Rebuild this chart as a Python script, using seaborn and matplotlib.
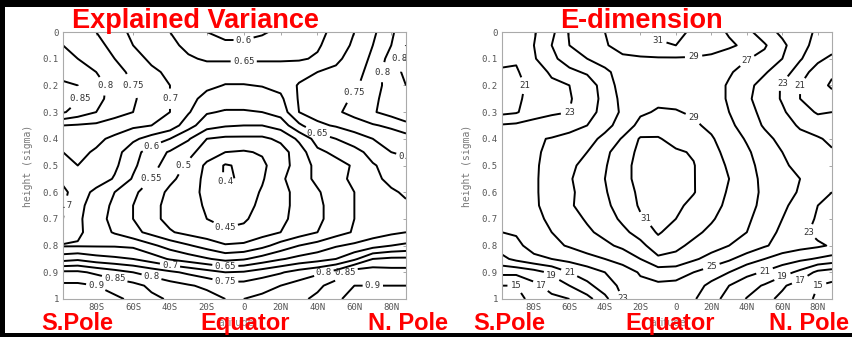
import numpy as np
import matplotlib
matplotlib.use("Agg")
import matplotlib.pyplot as plt
import seaborn as sns
from matplotlib.patches import Rectangle

# Grid the fields are read on (latitude in degrees, height in sigma)
LATS = [-98, -90, -80, -70, -60, -50, -40, -30, -20, -10, 0, 10, 20, 30, 40, 50, 60, 70, 80, 88]
SIGMAS = [0.0, 0.05, 0.1, 0.15, 0.2, 0.25, 0.3, 0.35, 0.4, 0.45, 0.5,
          0.55, 0.6, 0.65, 0.7, 0.75, 0.8, 0.85, 0.9, 0.95, 1.0]

# Explained variance, one row per sigma level
EXPLAINED_VARIANCE = [
    [.79, .78, .75, .72, .69, .67, .65, .62, .60, .585, .585, .595, .61, .62, .64, .66, .70, .74, .79, .84],
    [.80, .80, .77, .73, .70, .68, .66, .64, .625, .61, .61, .615, .625, .635, .645, .67, .71, .75, .80, .85],
    [.815, .80, .78, .75, .72, .69, .67, .655, .645, .645, .645, .645, .645, .645, .655, .69, .72, .76, .82, .86],
    [.84, .83, .80, .765, .74, .71, .69, .675, .67, .67, .67, .67, .67, .68, .70, .71, .73, .77, .83, .86],
    [.855, .85, .82, .78, .75, .72, .70, .68, .66, .648, .648, .652, .665, .705, .71, .72, .74, .78, .82, .85],
    [.86, .855, .815, .78, .755, .73, .70, .665, .635, .625, .625, .63, .64, .705, .715, .725, .76, .79, .82, .84],
    [.855, .83, .80, .77, .75, .725, .70, .655, .605, .595, .595, .60, .62, .70, .72, .74, .77, .795, .82, .85],
    [.75, .745, .74, .725, .71, .70, .68, .62, .57, .555, .55, .55, .57, .64, .69, .705, .72, .745, .76, .78],
    [.71, .72, .71, .69, .66, .63, .60, .555, .50, .49, .49, .49, .51, .56, .62, .65, .68, .70, .72, .73],
    [.70, .71, .695, .67, .62, .575, .545, .515, .475, .45, .445, .455, .48, .525, .59, .61, .63, .67, .70, .71],
    [.69, .70, .69, .66, .61, .565, .53, .49, .44, .395, .41, .44, .48, .52, .565, .585, .605, .645, .67, .68],
    [.69, .70, .68, .645, .595, .55, .51, .48, .435, .395, .405, .445, .49, .53, .56, .585, .61, .64, .66, .665],
    [.71, .68, .635, .60, .56, .525, .49, .465, .44, .42, .425, .455, .49, .51, .545, .575, .60, .63, .645, .655],
    [.705, .665, .625, .59, .55, .515, .485, .465, .445, .43, .435, .46, .49, .51, .54, .57, .60, .625, .64, .645],
    [.70, .66, .62, .585, .55, .515, .485, .465, .45, .44, .445, .465, .49, .515, .54, .57, .60, .62, .63, .635],
    [.69, .66, .625, .595, .565, .535, .505, .485, .47, .455, .46, .48, .50, .525, .55, .58, .605, .625, .64, .65],
    [.645, .645, .645, .645, .64, .61, .58, .555, .53, .505, .51, .535, .57, .60, .62, .645, .66, .68, .70, .71],
    [.73, .74, .72, .71, .70, .675, .645, .625, .605, .585, .595, .62, .645, .665, .68, .70, .74, .80, .81, .81],
    [.86, .86, .84, .82, .80, .78, .76, .74, .72, .70, .705, .725, .745, .77, .79, .82, .88, .88, .87, .87],
    [.91, .91, .90, .88, .865, .84, .82, .805, .79, .77, .77, .785, .80, .82, .84, .87, .90, .90, .90, .90],
    [.93, .93, .92, .91, .89, .86, .845, .83, .82, .80, .80, .81, .82, .84, .86, .89, .92, .92, .92, .92],
]

# E-dimension, one row per sigma level
E_DIMENSION = [
    [22, 22, 22.8, 24.5, 27.2, 28.3, 29, 29.6, 30.3, 31.3, 31.3, 30.8, 29.8, 28.8, 27.5, 26, 24.5, 23.5, 22.8, 22.5],
    [22, 21.8, 23, 25, 27, 28, 28.9, 29.4, 30, 30.8, 31, 30.3, 29.6, 29.3, 28.6, 27.2, 25.5, 23.5, 22.5, 22],
    [21.8, 21.2, 22.8, 24.5, 26, 27, 28, 28.8, 28.8, 28.8, 28.8, 28.8, 28.7, 28, 27.1, 26.5, 25, 23.2, 21.5, 20.5],
    [20.6, 20.8, 22, 23.3, 24.5, 25.3, 26.5, 28, 28.3, 28.3, 28.3, 28.3, 28, 27.2, 26.3, 25.2, 24, 22, 20, 19.2],
    [20, 20.3, 21.8, 22.6, 23, 23.8, 26, 27.8, 28.3, 28.3, 28.3, 28.3, 27.8, 26.8, 25.5, 24.3, 22.8, 21, 19.5, 18.8],
    [20, 20.5, 22, 22.6, 22.9, 23.6, 25.8, 27.5, 28.4, 28.6, 28.6, 28.4, 27.8, 26.8, 25.3, 24.2, 22.8, 21, 19.8, 19.5],
    [20.5, 20.8, 22.2, 22.7, 23, 24, 25.9, 27.3, 28.7, 29.2, 29.1, 28.8, 28, 27, 25.6, 24.5, 23.3, 21.8, 20.8, 21],
    [23.2, 23.4, 23.7, 24, 24.3, 25, 26.4, 27.8, 29.6, 29.8, 29.6, 29.3, 28.6, 27.5, 26, 24.8, 23.7, 22.8, 22, 22],
    [24, 24.5, 24.8, 25.1, 25.6, 26.3, 27.5, 29.2, 31.2, 31.2, 30.2, 30, 29.2, 28, 26.8, 25.5, 24.5, 23.5, 23.2, 22.6],
    [24.2, 24.5, 24.8, 25.3, 26.2, 27, 28.5, 30.2, 31.4, 31.5, 31.3, 30.8, 29.5, 28.5, 27.3, 26, 25, 24, 23.5, 23.2],
    [24, 24.4, 24.8, 25.5, 26.6, 27.6, 28.8, 30.5, 31.5, 31.7, 31.6, 31.1, 29.7, 28.8, 27.6, 26.3, 25.3, 24.5, 24, 23.5],
    [24, 24.3, 24.8, 25.6, 26.8, 28, 29, 30.5, 31.5, 31.8, 31.6, 31.1, 29.8, 29, 27.8, 26.5, 25.6, 25, 24, 23.5],
    [23.8, 24.2, 24.8, 25.6, 26.6, 27.9, 28.8, 30.3, 31.3, 31.8, 31.6, 31.1, 29.9, 28.8, 27.8, 26.6, 25.8, 24.8, 23.8, 23],
    [23.5, 24, 24.8, 25.5, 26.8, 27.6, 28.5, 30, 31.2, 31.7, 31.4, 30.5, 29.6, 28.6, 27.6, 26.5, 25.5, 24, 23, 22.5],
    [23, 23.5, 24.6, 25.3, 26.3, 27.2, 28, 29.4, 30.8, 31.5, 31, 30, 29.2, 28.2, 27.3, 26.2, 25, 23.8, 22.8, 22.5],
    [23, 23.2, 24.5, 25, 25.8, 26.7, 27.5, 28.5, 29.8, 31.2, 30.2, 29.4, 28.6, 27.8, 27, 26, 24.5, 23.5, 22.5, 22],
    [22, 22.5, 23.8, 24.5, 25.2, 26, 26.6, 27.4, 28.4, 30.2, 29.4, 28.6, 27.8, 27, 26.3, 25.2, 24.3, 23.7, 23.3, 22.8],
    [20.5, 21.5, 22.5, 23, 23.6, 24.3, 25, 25.8, 27, 28.6, 28.5, 27.3, 26.3, 25.3, 24, 23, 22, 21.4, 20.8, 20.3],
    [17.5, 17.5, 18.2, 19.4, 21, 22, 23, 24, 25.2, 26, 25.8, 25, 24, 23, 21.6, 20.8, 19.8, 18.5, 16.5, 16],
    [15, 15, 16.5, 17.8, 19, 20.5, 22, 23.5, 24.5, 24.6, 24.5, 23.8, 22.5, 21, 19.8, 18.8, 17.3, 16, 15, 14.6],
    [14, 14.5, 15.5, 16.5, 17, 18.3, 20.5, 23, 24, 24.3, 24, 23.2, 21.8, 20.2, 18.9, 17.6, 16.5, 15.5, 14.8, 14.5],
]

EV_LEVELS = [0.4, 0.45, 0.5, 0.55, 0.6, 0.65, 0.7, 0.75, 0.8, 0.85, 0.9]
ED_LEVELS = [15, 17, 19, 21, 23, 25, 27, 29, 31]

LAT_TICKS = [-80, -60, -40, -20, 0, 20, 40, 60, 80]
LAT_TICK_LABELS = ["80S", "60S", "40S", "20S", "0", "20N", "40N", "60N", "80N"]
SIGMA_TICKS = [0, 0.1, 0.2, 0.3, 0.4, 0.5, 0.6, 0.7, 0.8, 0.9, 1.0]
SIGMA_TICK_LABELS = ["0", "0.1", "0.2", "0.3", "0.4", "0.5", "0.6", "0.7", "0.8", "0.9", "1"]

PANEL_TITLES = ["Explained Variance", "E-dimension"]
REGION_LABELS = ["S.Pole", "Equator", "N. Pole"]

RED = "#ff0000"
GREY = "#555555"
MONO = ["DejaVu Sans Mono"]


def draw_panel(ax, field, levels, fmt):
    """Contour one field on the latitude / sigma plane."""
    lat, sig = np.meshgrid(LATS, SIGMAS)
    cs = ax.contour(lat, sig, np.array(field), levels=levels,
                    colors="black", linewidths=1.4)
    labels = ax.clabel(cs, fmt=fmt, fontsize=6.5, colors="#333333", inline=True,
                       inline_spacing=3)
    # matlab style: labels stay upright
    for t in labels:
        t.set_rotation(0)
        t.set_family(MONO)

    ax.set_xlim(-98, 88)
    ax.set_ylim(1, 0)
    ax.set_xticks(LAT_TICKS)
    ax.set_xticklabels(LAT_TICK_LABELS, family=MONO)
    ax.set_yticks(SIGMA_TICKS)
    ax.set_yticklabels(SIGMA_TICK_LABELS, family=MONO)
    ax.tick_params(direction="in", length=2.5, width=0.6, color="#999999",
                   labelsize=6.5, labelcolor=GREY, top=True, right=True, pad=3)
    ax.set_xlabel("latitude", fontsize=7, color="#888888", labelpad=4)
    ax.set_ylabel("height (sigma)", fontsize=7, color="#777777", labelpad=7, family=MONO)
    for spine in ax.spines.values():
        spine.set_color("#aaaaaa")
        spine.set_linewidth(0.8)


def main():
    sns.set_theme(style="white")
    plt.rcParams["font.family"] = ["DejaVu Sans"]

    fig = plt.figure(figsize=(8.52, 3.37), dpi=100, facecolor="black")
    # white sheet inside the black frame, kept behind the axes
    fig.patches.append(Rectangle((5 / 852, 4 / 337), 1 - 5 / 852, (330 - 4) / 337,
                                 transform=fig.transFigure, facecolor="white",
                                 edgecolor="none", zorder=-10))

    ax_left = fig.add_axes([63 / 852, 38 / 337, 343 / 852, 267 / 337])
    ax_right = fig.add_axes([502 / 852, 38 / 337, 330 / 852, 267 / 337])

    draw_panel(ax_left, EXPLAINED_VARIANCE, EV_LEVELS, "%g")
    draw_panel(ax_right, E_DIMENSION, ED_LEVELS, "%d")

    title_font = dict(family=["Liberation Sans", "DejaVu Sans"], weight="bold", color=RED)
    fig.text(195 / 852, 1 - 28 / 337, PANEL_TITLES[0], ha="center", va="baseline",
             fontsize=19.5, **title_font)
    fig.text(641 / 852, 1 - 28 / 337, PANEL_TITLES[1], ha="center", va="baseline",
             fontsize=19.5, **title_font)

    base = 1 - 330 / 337
    for x_pole_s, x_eq, x_pole_n in [(41, 245, 368), (473, 670, 769)]:
        fig.text(x_pole_s / 852, base, REGION_LABELS[0], ha="left", va="baseline", fontsize=17, **title_font)
        fig.text(x_eq / 852, base, REGION_LABELS[1], ha="center", va="baseline", fontsize=17, **title_font)
        fig.text(x_pole_n / 852, base, REGION_LABELS[2], ha="left", va="baseline", fontsize=17, **title_font)

    fig.savefig("out.png", dpi=100, facecolor=fig.get_facecolor())
    plt.close(fig)


if __name__ == "__main__":
    main()
